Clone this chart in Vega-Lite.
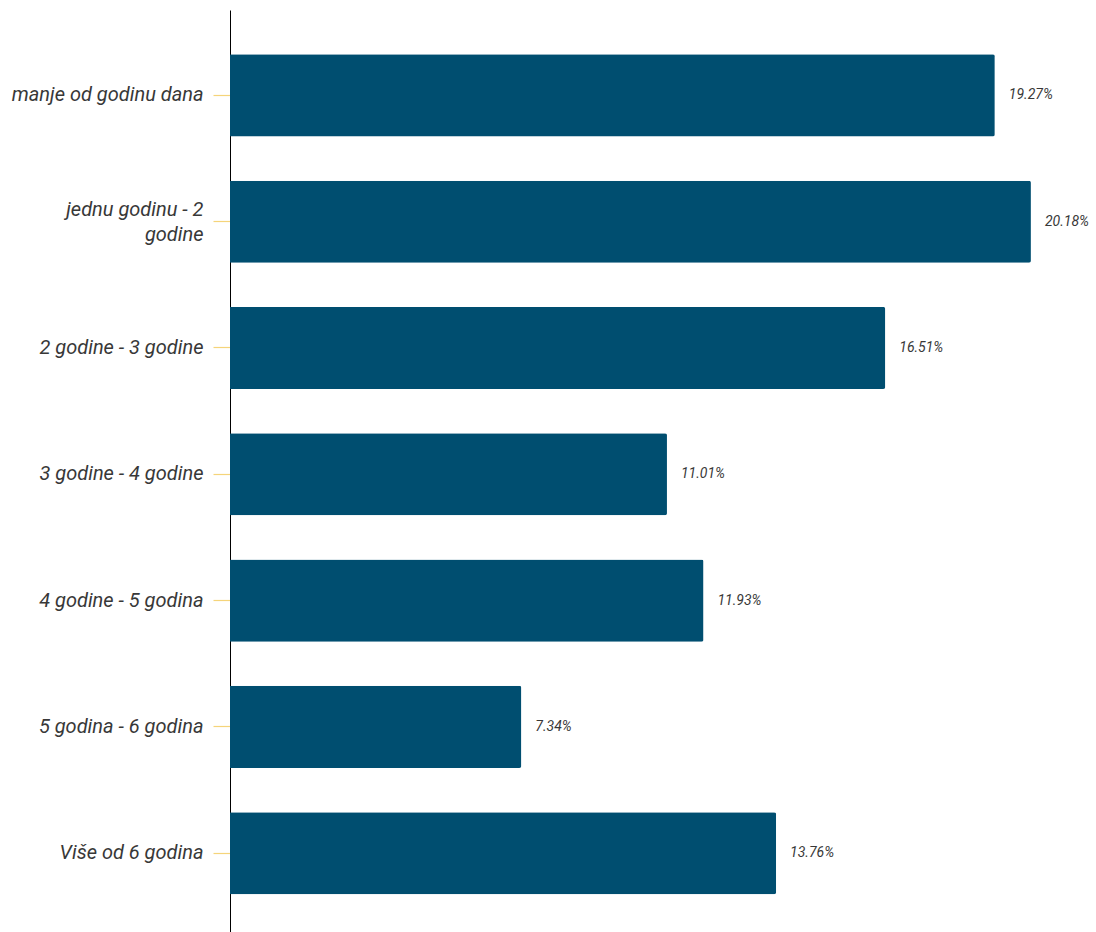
{
  "$schema": "https://vega.github.io/schema/vega-lite/v6.json",
  "width": 866,
  "height": 922,
  "autosize": {"type": "none"},
  "padding": {"left": 230, "top": 10, "right": 0, "bottom": 0},
  "background": "white",
  "config": {"view": {"stroke": null}, "font": "Roboto"},
  "data": {"values": [
    {"category": "manje od godinu dana", "value": 19.27},
    {"category": "jednu godinu - 2 godine", "value": 20.18},
    {"category": "2 godine - 3 godine", "value": 16.51},
    {"category": "3 godine - 4 godine", "value": 11.01},
    {"category": "4 godine - 5 godina", "value": 11.93},
    {"category": "5 godina - 6 godina", "value": 7.34},
    {"category": "Više od 6 godina", "value": 13.76}
  ]},
  "encoding": {
    "y": {
      "field": "category", "type": "nominal", "sort": null,
      "scale": {"paddingInner": 0.35, "paddingOuter": 0.325, "align": 0.54},
      "axis": {
        "title": null,
        "domainColor": "#000000", "domainWidth": 1,
        "tickColor": "#f5d47a", "tickSize": 17, "tickWidth": 1.2,
        "labelPadding": 10, "labelFont": "Roboto", "labelFontStyle": "italic",
        "labelFontSize": 20, "labelColor": "#383838", "labelLineHeight": 25,
        "labelLimit": 300,
        "labelOffset": {"condition": {"test": "datum.value == 'jednu godinu - 2 godine'", "value": -12}, "value": 0},
        "labelExpr": "datum.value == 'jednu godinu - 2 godine' ? ['jednu godinu - 2', 'godine'] : datum.value"
      }
    },
    "x": {
      "field": "value", "type": "quantitative",
      "scale": {"domain": [0, 21.82], "nice": false, "zero": true},
      "axis": null
    }
  },
  "layer": [
    {"mark": {"type": "bar", "color": "#004e70", "cornerRadiusEnd": 2}},
    {
      "transform": [{"calculate": "format(datum.value, '.2f') + '%'", "as": "lbl"}],
      "mark": {"type": "text", "align": "left", "baseline": "middle", "dx": 14, "font": "Roboto", "fontStyle": "italic", "fontSize": 14, "color": "#383838"},
      "encoding": {"text": {"field": "lbl", "type": "nominal"}}
    }
  ]
}
